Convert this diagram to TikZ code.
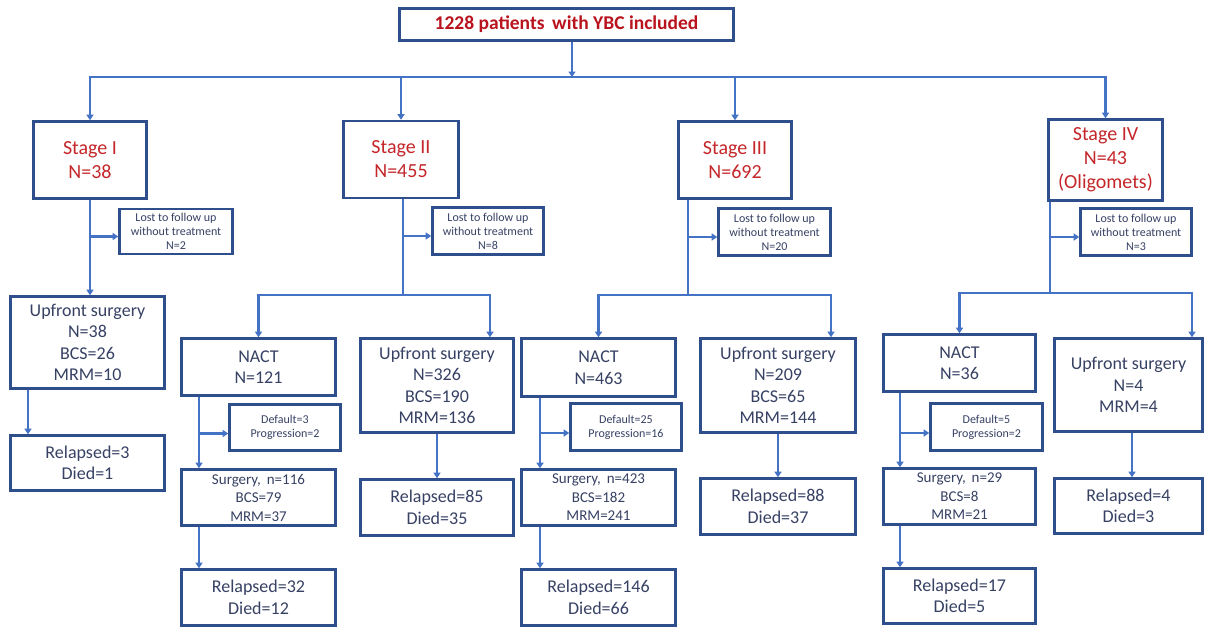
\documentclass[tikz,border=0pt]{standalone}
\usepackage{fontspec}
\setmainfont{Carlito}
\usetikzlibrary{arrows.meta}
\definecolor{bordercol}{RGB}{47,78,140}
\definecolor{conncol}{RGB}{68,114,196}
\definecolor{txtcol}{RGB}{55,65,100}
\definecolor{redcol}{RGB}{196,38,42}
\definecolor{topred}{RGB}{185,20,30}
\tikzset{
  box/.style={draw=bordercol, line width=2.6pt, fill=white, text=txtcol, align=center, inner sep=0pt,
    font=\fontsize{18}{21.5}\selectfont},
  stagebox/.style={box, text=redcol, font=\fontsize{20}{24}\selectfont},
  topbox/.style={box, text=topred, font=\fontsize{19.5}{22}\selectfont\bfseries},
  smallbox/.style={box, font=\fontsize{12}{14}\selectfont},
  midbox/.style={box, font=\fontsize{15}{18.5}\selectfont},
  conn/.style={draw=conncol, line width=2.4pt},
  arr/.style={conn, -{Triangle[length=5.5pt,width=7pt]}},
  darr/.style={conn, {Triangle[length=5.5pt,width=7pt]}-{Triangle[length=5.5pt,width=7pt]}},
}
\begin{document}
\begin{tikzpicture}[x=1pt,y=-1pt]
\useasboundingbox[fill=white] (0,0) rectangle (1206,629);

% top
\node[topbox, minimum width=334pt, minimum height=32pt] (top) at (566.5,24.5) {1228 patients\, with YBC included};

% stages
\node[stagebox, minimum width=113pt, minimum height=77pt] (s1) at (90,160) {Stage I\\N=38};
\node[stagebox, minimum width=115pt, minimum height=77pt] (s2) at (401,159.5) {Stage II\\N=455};
\node[stagebox, minimum width=113pt, minimum height=77pt] (s3) at (735,160) {Stage III\\N=692};
\node[stagebox, minimum width=114pt, minimum height=81pt] (s4) at (1105.5,160) {Stage IV\\N=43\\(Oligomets)};

% lost to follow up
\node[smallbox, minimum width=113pt, minimum height=45pt] (l1) at (176,231.5) {Lost to follow up\\without treatment\\N=2};
\node[smallbox, minimum width=111pt, minimum height=47pt] (l2) at (488,231) {Lost to follow up\\without treatment\\N=8};
\node[smallbox, minimum width=112pt, minimum height=47pt] (l3) at (774.5,232) {Lost to follow up\\without treatment\\N=20};
\node[smallbox, minimum width=111pt, minimum height=47pt] (l4) at (1136,232) {Lost to follow up\\without treatment\\N=3};

% Stage I branch
\node[box, minimum width=154pt, minimum height=92pt] (u1) at (87.5,342.5) {Upfront surgery\\N=38\\BCS=26\\MRM=10};
\node[box, minimum width=154pt, minimum height=55pt] (r1) at (87.5,463) {Relapsed=3\\Died=1};

% Stage II branch
\node[box, minimum width=154pt, minimum height=57pt] (n2) at (258.5,367) {NACT\\N=121};
\node[box, minimum width=153pt, minimum height=94pt] (u2) at (437,385.5) {Upfront surgery\\N=326\\BCS=190\\MRM=136};
\node[smallbox, minimum width=111pt, minimum height=46pt] (d2) at (285,427.5) {Default=3\\Progression=2};
\node[midbox, minimum width=154pt, minimum height=56pt] (g2) at (258.5,497.5) {Surgery,\, n=116\\BCS=79\\MRM=37};
\node[box, minimum width=154pt, minimum height=56pt] (f2) at (258.5,597.5) {Relapsed=32\\Died=12};
\node[box, minimum width=153pt, minimum height=56pt] (r2) at (437,507.5) {Relapsed=85\\Died=35};

% Stage III branch
\node[box, minimum width=154pt, minimum height=58pt] (n3) at (598.5,367.5) {NACT\\N=463};
\node[box, minimum width=155pt, minimum height=94pt] (u3) at (778,385.5) {Upfront surgery\\N=209\\BCS=65\\MRM=144};
\node[smallbox, minimum width=111pt, minimum height=47pt] (d3) at (626,427) {Default=25\\Progression=16};
\node[midbox, minimum width=154pt, minimum height=56pt] (g3) at (598.5,497.5) {Surgery,\, n=423\\BCS=182\\MRM=241};
\node[box, minimum width=154pt, minimum height=56pt] (f3) at (598.5,597.5) {Relapsed=146\\Died=66};
\node[box, minimum width=155pt, minimum height=56pt] (r3) at (778,506.5) {Relapsed=88\\Died=37};

% Stage IV branch
\node[box, minimum width=152pt, minimum height=57pt] (n4) at (959.5,363) {NACT\\N=36};
\node[box, minimum width=148pt, minimum height=93pt] (u4) at (1128.5,385) {Upfront surgery\\N=4\\MRM=4};
\node[smallbox, minimum width=112pt, minimum height=47pt] (d4) at (986.5,427) {Default=5\\Progression=2};
\node[midbox, minimum width=152pt, minimum height=56pt] (g4) at (959.5,496.5) {Surgery,\, n=29\\BCS=8\\MRM=21};
\node[box, minimum width=152pt, minimum height=55pt] (f4) at (959.5,596) {Relapsed=17\\Died=5};
\node[box, minimum width=148pt, minimum height=55pt] (r4) at (1128.5,506) {Relapsed=4\\Died=3};

% junction coordinates
\coordinate (j0) at (572,77);
\coordinate (v1) at (90,0);
\coordinate (v1b) at (28,0);
\coordinate (j2) at (403,295);
\coordinate (k2) at (490,295);
\coordinate (v2) at (199,0);
\coordinate (j3) at (688,295);
\coordinate (k3) at (831,295);
\coordinate (v3) at (540,0);
\coordinate (j4) at (1050,293);
\coordinate (k4) at (1192,293);
\coordinate (v4) at (900,0);
\coordinate (v4b) at (1132,0);
\coordinate (b1) at ([yshift=-5pt]l1.west);
\coordinate (b2) at ([yshift=-5pt]l2.west);
\coordinate (b3) at ([yshift=-5pt]l3.west);
\coordinate (b4) at ([yshift=-5pt]l4.west);
\coordinate (c2) at ([yshift=-6pt]d2.west);
\coordinate (c3) at ([yshift=-6pt]d3.west);
\coordinate (c4) at ([yshift=-6pt]d4.west);

% top connectors
\draw[arr] (top.south -| j0) -- (j0);
\draw[darr] (s1.north) -- (s1.north |- j0) -- (s4.north |- j0) -- (s4.north);
\draw[arr] (s2.north |- j0) -- (s2.north);
\draw[arr] (s3.north |- j0) -- (s3.north);

% Stage I
\draw[arr] (s1.south -| v1) -- (u1.north -| v1);
\draw[arr] (b1 -| v1) -- (b1);
\draw[arr] (u1.south -| v1b) -- (r1.north -| v1b);

% Stage II
\draw[conn] (s2.south -| j2) -- (j2);
\draw[arr] (b2 -| j2) -- (b2);
\draw[darr] (n2.north) -- (n2.north |- j2) -- (k2) -- (k2 |- u2.north);
\draw[arr] (n2.south -| v2) -- (g2.north -| v2);
\draw[arr] (c2 -| v2) -- (c2);
\draw[arr] (g2.south -| v2) -- (f2.north -| v2);
\draw[arr] (u2.south) -- (r2.north);

% Stage III
\draw[conn] (s3.south -| j3) -- (j3);
\draw[arr] (b3 -| j3) -- (b3);
\draw[darr] (n3.north) -- (n3.north |- j3) -- (k3) -- (k3 |- u3.north);
\draw[arr] (n3.south -| v3) -- (g3.north -| v3);
\draw[arr] (c3 -| v3) -- (c3);
\draw[arr] (g3.south -| v3) -- (f3.north -| v3);
\draw[arr] (u3.south) -- (r3.north);

% Stage IV
\draw[conn] (s4.south -| j4) -- (j4);
\draw[arr] (b4 -| j4) -- (b4);
\draw[darr] (n4.north) -- (n4.north |- j4) -- (k4) -- (k4 |- u4.north);
\draw[arr] (n4.south -| v4) -- (g4.north -| v4);
\draw[arr] (c4 -| v4) -- (c4);
\draw[arr] (g4.south -| v4) -- (f4.north -| v4);
\draw[arr] (u4.south -| v4b) -- (r4.north -| v4b);
\end{tikzpicture}
\end{document}
